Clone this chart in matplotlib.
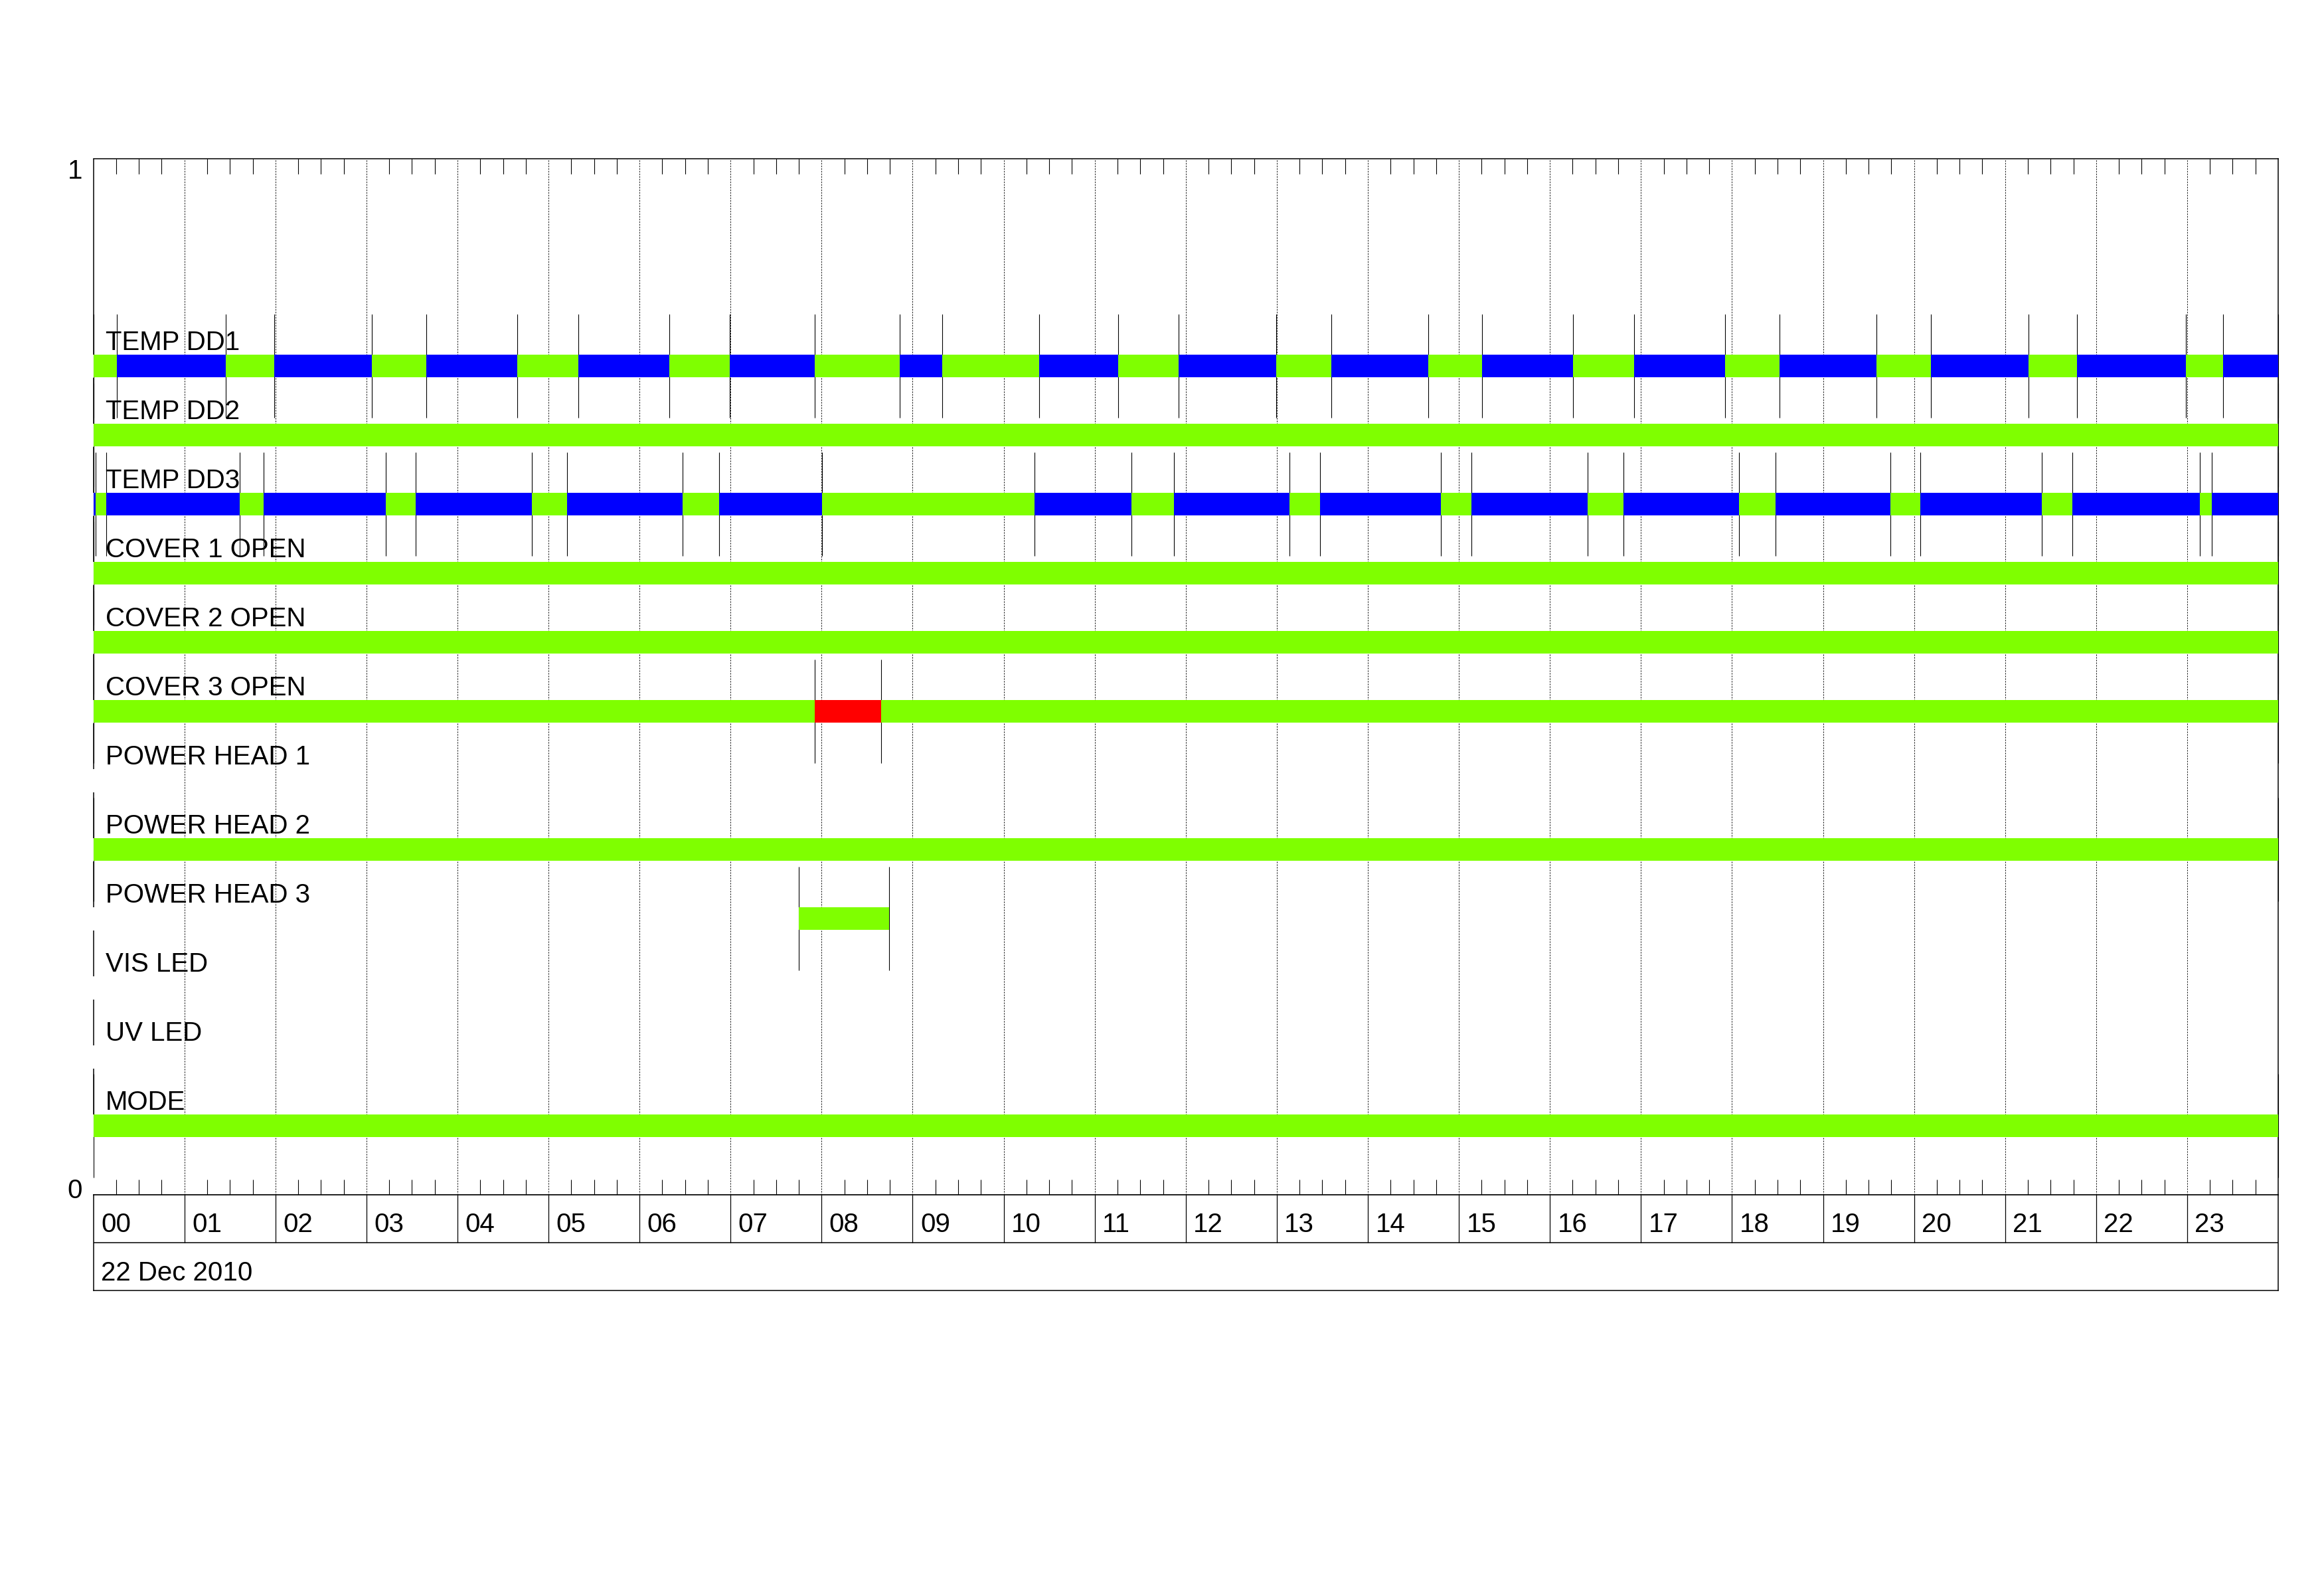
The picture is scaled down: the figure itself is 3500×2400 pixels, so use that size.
import matplotlib
matplotlib.use("Agg")
import matplotlib.pyplot as plt

# ---------------- data ----------------
row_labels = ["TEMP DD1", "TEMP DD2", "TEMP DD3", "COVER 1 OPEN", "COVER 2 OPEN",
              "COVER 3 OPEN", "POWER HEAD 1", "POWER HEAD 2", "POWER HEAD 3",
              "VIS LED", "UV LED", "MODE"]

hour_labels = ["00", "01", "02", "03", "04", "05", "06", "07", "08", "09", "10", "11",
               "12", "13", "14", "15", "16", "17", "18", "19", "20", "21", "22", "23"]
date_label = "22 Dec 2010"

# status codes: G = nominal, B = limit, R = alarm
dd1_edges = [0, 0.258, 1.454, 1.990, 3.058, 3.656, 4.659, 5.326, 6.325, 6.993, 7.922,
             8.859, 9.326, 10.39, 11.258, 11.921, 12.991, 13.596, 14.661, 15.258,
             16.257, 16.928, 17.927, 18.525, 19.590, 20.186, 21.257, 21.793, 22.985,
             23.391, 24]
dd1_states = ["G", "B", "G", "B", "G", "B", "G", "B", "G", "B", "G", "B", "G", "B", "G",
              "B", "G", "B", "G", "B", "G", "B", "G", "B", "G", "B", "G", "B", "G", "B"]

dd2_edges = [0, 24]
dd2_states = ["G"]

dd3_edges = [0, 0.025, 0.14, 1.609, 1.871, 3.21, 3.541, 4.814, 5.203, 6.473, 6.874,
             8.004, 10.337, 11.401, 11.868, 13.138, 13.474, 14.804, 15.140, 16.413,
             16.810, 18.075, 18.476, 19.740, 20.068, 21.405, 21.740, 23.140, 23.270, 24]
dd3_states = ["B", "G", "B", "G", "B", "G", "B", "G", "B", "G", "B", "G", "B", "G", "B",
              "G", "B", "G", "B", "G", "B", "G", "B", "G", "B", "G", "B", "G", "B"]

cover1_edges = [0, 24]
cover1_states = ["G"]
cover2_edges = [0, 24]
cover2_states = ["G"]
cover3_edges = [0, 7.926, 8.655, 24]
cover3_states = ["G", "R", "G"]
ph1_edges = []
ph1_states = []
ph2_edges = [0, 24]
ph2_states = ["G"]
ph3_edges = [7.751, 8.739]
ph3_states = ["G"]
vis_edges = []
vis_states = []
uv_edges = []
uv_states = []
mode_edges = [0, 24]
mode_states = ["G"]

all_edges = [dd1_edges, dd2_edges, dd3_edges, cover1_edges, cover2_edges, cover3_edges,
             ph1_edges, ph2_edges, ph3_edges, vis_edges, uv_edges, mode_edges]
all_states = [dd1_states, dd2_states, dd3_states, cover1_states, cover2_states,
              cover3_states, ph1_states, ph2_states, ph3_states, vis_states, uv_states,
              mode_states]

# ---------------- style ----------------
state_colors = {"G": "#7fff00", "B": "#0000ff", "R": "#ff0000"}
FONT = ["Liberation Sans", "DejaVu Sans"]
FS = 29
plt.rcParams["font.family"] = FONT

W_PX, H_PX = 3500, 2400
fig = plt.figure(figsize=(35, 24), dpi=100)
fig.patch.set_facecolor("white")

x_left, x_right = 140.6, 3431.0
y_top, y_bot = 239.0, 1799.0
ax = fig.add_axes([x_left / W_PX, 1 - y_bot / H_PX,
                   (x_right - x_left) / W_PX, (y_bot - y_top) / H_PX])
ax.set_xlim(0, 24)
ax.set_ylim(0, 1)
ax.spines["left"].set_visible(False)
for s in ("top", "bottom", "right"):
    ax.spines[s].set_linewidth(1.1)
ax.set_xticks([])
ax.set_yticks([])
quarters = [h + q for h in range(24) for q in (0.25, 0.5, 0.75)]
ax.set_xticks(quarters, minor=True)
ax.tick_params(axis="x", which="minor", direction="in", length=16.6, width=0.8,
               top=True, bottom=True, labelbottom=False, labeltop=False)

# hour grid
for h in range(1, 24):
    ax.axvline(h, color="black", lw=0.72, ls=(0, (2, 2)), zorder=1)

# top part of left edge
ax.vlines(0, 0.855, 1.0, color="black", lw=1.1, clip_on=False, zorder=2)

n = len(row_labels)
bar_h = 0.0213
for k, label in enumerate(row_labels):
    y = (n - k) / 15.0
    edges = all_edges[k]
    states = all_states[k]
    ax.vlines(0, y + 0.011, y + 0.055, color="black", lw=1.1, clip_on=False, zorder=2)
    for i, st in enumerate(states):
        ax.barh(y, edges[i + 1] - edges[i], left=edges[i], height=bar_h,
                color=state_colors[st], edgecolor="none", zorder=3)
    if edges:
        ax.vlines(edges, y - 0.05, y + 0.05, color="black", lw=0.8,
                  clip_on=False, zorder=2)
    ax.text(0.134, y + 0.0154, label, fontsize=FS, ha="left", va="baseline",
            color="black", zorder=4)

# y labels
ax.text(-0.12, 1.0, "1", fontsize=FS, ha="right", va="top", clip_on=False)
ax.text(-0.12, -0.003, "0", fontsize=FS, ha="right", va="baseline", clip_on=False)

# hour / date boxes
box_top, box_bot = 1799.0, 1943.0
bax = fig.add_axes([x_left / W_PX, 1 - box_bot / H_PX,
                    (x_right - x_left) / W_PX, (box_bot - box_top) / H_PX])
bax.set_xlim(0, 24)
bax.set_ylim(0, 2)
bax.set_xticks([])
bax.set_yticks([])
for s in bax.spines.values():
    s.set_linewidth(1.1)
bax.axhline(1, color="black", lw=1.1)
bax.vlines(range(1, 24), 1, 2, color="black", lw=0.9)
for h, lab in enumerate(hour_labels):
    bax.text(h + 0.083, 1.222, lab, fontsize=FS, ha="left", va="baseline")
bax.text(0.083, 0.208, date_label, fontsize=FS, ha="left", va="baseline")

fig.savefig("out.png", dpi=100, facecolor="white")
